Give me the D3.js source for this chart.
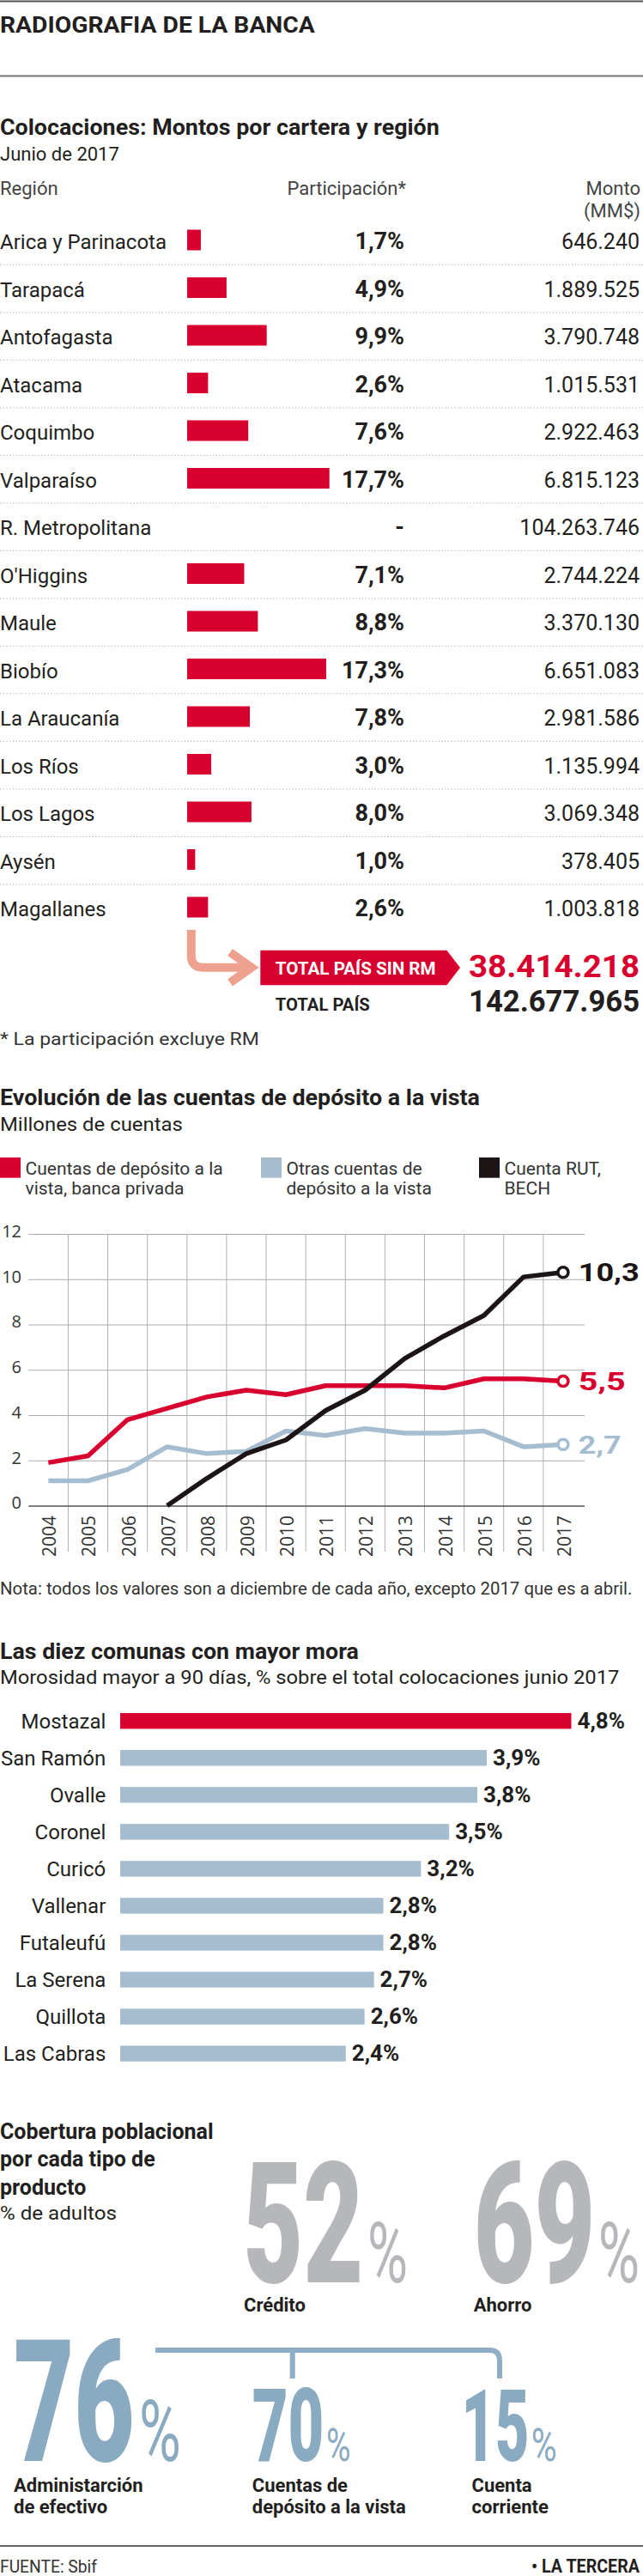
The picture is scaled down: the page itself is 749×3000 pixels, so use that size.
<!DOCTYPE html>
<html><head><meta charset="utf-8">
<script src="https://cdn.jsdelivr.net/npm/d3@7"></script>
<style>body{margin:0;background:#fff}svg{display:block}</style>
</head><body>
<script>
// ---------- DATA ----------
const regiones = ["Arica y Parinacota","Tarapacá","Antofagasta","Atacama","Coquimbo","Valparaíso","R. Metropolitana","O'Higgins","Maule","Biobío","La Araucanía","Los Ríos","Los Lagos","Aysén","Magallanes"];
const participacion = [1.7, 4.9, 9.9, 2.6, 7.6, 17.7, null, 7.1, 8.8, 17.3, 7.8, 3.0, 8.0, 1.0, 2.6];
const montos = [646240, 1889525, 3790748, 1015531, 2922463, 6815123, 104263746, 2744224, 3370130, 6651083, 2981586, 1135994, 3069348, 378405, 1003818];
const totalSinRM = 38414218;
const totalPais = 142677965;

const anios = [2004,2005,2006,2007,2008,2009,2010,2011,2012,2013,2014,2015,2016,2017];
const privada = [1.9, 2.2, 3.8, 4.3, 4.8, 5.1, 4.9, 5.3, 5.3, 5.3, 5.2, 5.6, 5.6, 5.5];
const otras = [1.1, 1.1, 1.6, 2.6, 2.3, 2.4, 3.3, 3.1, 3.4, 3.2, 3.2, 3.3, 2.6, 2.7];
const cuentaRut = [null, null, null, 0, 1.2, 2.3, 2.9, 4.2, 5.1, 6.5, 7.5, 8.4, 10.1, 10.3];
const yTicks = [0, 2, 4, 6, 8, 10, 12];
const leyenda = [["Cuentas de depósito a la","vista, banca privada"],["Otras cuentas de","depósito a la vista"],["Cuenta RUT,","BECH"]];

const comunas = ["Mostazal","San Ramón","Ovalle","Coronel","Curicó","Vallenar","Futaleufú","La Serena","Quillota","Las Cabras"];
const mora = [4.8, 3.9, 3.8, 3.5, 3.2, 2.8, 2.8, 2.7, 2.6, 2.4];

const coberturaValores = [52, 69, 76, 70, 15];
const coberturaEtiquetas = [["Crédito"],["Ahorro"],["Administarción","de efectivo"],["Cuentas de","depósito a la vista"],["Cuenta","corriente"]];

// ---------- SETUP ----------
const W = 749, H = 3000;
const RED = "#d7002e", LBLUE = "#a5bdcf", DBLUE = "#8aaac1", GRAY = "#b5b7bb", INK = "#231f20", SALMON = "#eda18e", BLACK = "#1d1515";
const F = "Roboto, 'Liberation Sans', Arial, sans-serif";
const F2 = "'Open Sans', Roboto, sans-serif";
const es = d3.formatLocale({decimal: ",", thousands: ".", grouping: [3], currency: ["$", ""]});
const fmtInt = es.format(",d");
const fmtPct = v => es.format(".1f")(v) + "%";
const fmtDec = es.format(".1f");

const svg = d3.select("body").append("svg").attr("width", W).attr("height", H);
svg.append("rect").attr("width", W).attr("height", H).attr("fill", "#fff");

// text helper; "fit" scales the text horizontally to a target width
function T(g, x, y, s, o = {}) {
  let parent = g, tx = x, ty = y, wrap = null;
  if (o.fit) { wrap = g.append("g").attr("transform", `translate(${x},${y})`); parent = wrap; tx = 0; ty = 0; }
  const t = parent.append("text").attr("x", tx).attr("y", ty).text(s)
    .attr("font-family", o.family || F).attr("font-size", o.size || 22)
    .attr("font-weight", o.weight || 400).attr("fill", o.fill || INK)
    .attr("text-anchor", o.anchor || "start");
  if (o.fit) {
    const len = t.node().getComputedTextLength() || o.fit;
    wrap.attr("transform", `translate(${x},${y}) scale(${o.fit / len},1)`);
  }
  return t;
}

// ---------- HEADER ----------
svg.append("line").attr("x1", 0).attr("x2", W).attr("y1", 1.5).attr("y2", 1.5).attr("stroke", "#555").attr("stroke-width", 2);
T(svg, 0, 37.5, "RADIOGRAFIA DE LA BANCA", {size: 26, weight: 700, fit: 367});
svg.append("line").attr("x1", 0).attr("x2", W).attr("y1", 88.5).attr("y2", 88.5).attr("stroke", "#777").attr("stroke-width", 2);

// ---------- SECTION 1 ----------
const s1 = svg.append("g");
T(s1, 0, 156.7, "Colocaciones: Montos por cartera y región", {size: 25, weight: 700, fit: 512});
T(s1, 0, 186.7, "Junio de 2017", {size: 22, fit: 139});
T(s1, 0, 226.7, "Región", {size: 22, fill: "#444"});
T(s1, 473, 226.7, "Participación*", {size: 22, fill: "#444", anchor: "end"});
T(s1, 746, 226.7, "Monto", {size: 22, fill: "#444", anchor: "end"});
T(s1, 746, 253.3, "(MM$)", {size: 22, fill: "#444", anchor: "end"});

const y1 = d3.scaleBand().domain(regiones).range([251.75, 251.75 + regiones.length * 55.5]);
const x1 = d3.scaleLinear().domain([0, 17.7]).range([218, 383.7]);
const rowData = regiones.map((r, i) => ({r, p: participacion[i], m: montos[i], i}));
const rows = s1.append("g").selectAll("g").data(rowData).join("g")
  .attr("transform", d => `translate(0,${y1(d.r) + y1.bandwidth() / 2})`);
rows.filter(d => d.i < regiones.length - 1).append("line")
  .attr("x1", 0).attr("x2", W).attr("y1", 28.8).attr("y2", 28.8)
  .attr("stroke", "#bdbdbd").attr("stroke-width", 1.3).attr("stroke-dasharray", "1.3,2.4");
rows.each(function(d) {
  const g = d3.select(this);
  T(g, 0, 10.5, d.r, {size: 24});
  if (d.p != null) g.append("rect").attr("x", x1(0)).attr("y", -12).attr("width", x1(d.p) - x1(0)).attr("height", 24).attr("fill", RED);
  T(g, 471, 10.5, d.p == null ? "-" : fmtPct(d.p), {size: 27, weight: 700, anchor: "end"});
  T(g, 745, 10.5, fmtInt(d.m), {size: 25, anchor: "end"});
});

// arrow + totals
s1.append("path").attr("d", "M222.8,1083 V1113 Q222.8,1126.7 236.5,1126.7 H292")
  .attr("fill", "none").attr("stroke", SALMON).attr("stroke-width", 10);
s1.append("path").attr("d", "M268,1109 L293,1126.7 L268,1144.4")
  .attr("fill", "none").attr("stroke", SALMON).attr("stroke-width", 10);
s1.append("polygon").attr("points", "303.3,1106.7 520.4,1106.7 536,1127 520.4,1147.3 303.3,1147.3").attr("fill", RED);
T(s1, 320.8, 1134.5, "TOTAL PAÍS SIN RM", {size: 20, weight: 700, fill: "#fff", fit: 187});
T(s1, 745, 1138, fmtInt(totalSinRM), {size: 37, weight: 700, fill: RED, anchor: "end", fit: 199});
T(s1, 320.8, 1177, "TOTAL PAÍS", {size: 20, weight: 700, fit: 110});
T(s1, 745, 1178, fmtInt(totalPais), {size: 36, weight: 700, anchor: "end", fit: 199});
T(s1, 0, 1216.7, "* La participación excluye RM", {size: 21, fill: "#333", fit: 302});

// ---------- SECTION 2: LINE CHART ----------
const s2 = svg.append("g");
T(s2, 0, 1286.7, "Evolución de las cuentas de depósito a la vista", {size: 25, weight: 700, fit: 559});
T(s2, 0, 1316.7, "Millones de cuentas", {size: 22, fit: 213});

const legColors = [RED, LBLUE, BLACK];
const legX = [0, 304, 558];
leyenda.forEach((lines, i) => {
  s2.append("rect").attr("x", legX[i]).attr("y", 1348).attr("width", 24).attr("height", 23.7).attr("fill", legColors[i]);
  lines.forEach((ln, j) => T(s2, legX[i] + 29.5, 1368 + j * 22.7, ln, {size: 21, fill: "#333"}));
});

const xB = d3.scaleBand().domain(anios).range([33.3, 679]);
const y2 = d3.scaleLinear().domain([0, 12]).range([1753.5, 1437]);
const cx = d => xB(d) + xB.bandwidth() / 2;

// vertical grid at band edges
s2.append("g").selectAll("line").data(anios.slice(1)).join("line")
  .attr("x1", d => xB(d)).attr("x2", d => xB(d)).attr("y1", y2(12)).attr("y2", 1807)
  .attr("stroke", "#b0b0b0").attr("stroke-width", 1);

// y axis with gridlines
const yAx = s2.append("g").attr("transform", "translate(33.3,0)")
  .call(d3.axisLeft(y2).tickValues(yTicks).tickSize(-(681 - 33.3)).tickPadding(8.3).tickFormat(d3.format("d")));
yAx.select(".domain").remove();
yAx.selectAll(".tick line").attr("stroke", d => d === 0 ? "#555" : "#aaa").attr("stroke-width", d => d === 0 ? 1.5 : 1);
yAx.selectAll(".tick text").attr("font-family", F2).attr("font-size", 20).attr("fill", "#333").attr("dy", "0.17em");

// x axis (years, rotated)
const xAx = s2.append("g").attr("transform", `translate(0,${y2(0)})`)
  .call(d3.axisBottom(xB).tickSize(0).tickPadding(0));
xAx.select(".domain").remove();
xAx.selectAll(".tick text").attr("font-family", F2).attr("font-size", 21).attr("fill", "#333")
  .attr("transform", "rotate(-90)").attr("text-anchor", "end").attr("x", -11.5).attr("y", 9).attr("dy", 0);

const line = d3.line().defined(d => d.v != null).x(d => cx(d.a)).y(d => y2(d.v));
const series = [
  {vals: privada, color: RED, fit: 55},
  {vals: otras, color: LBLUE, fit: 50},
  {vals: cuentaRut, color: BLACK, fit: 71}
];
series.forEach(s => {
  const pts = anios.map((a, i) => ({a, v: s.vals[i]}));
  s2.append("path").datum(pts).attr("d", line).attr("fill", "none")
    .attr("stroke", s.color).attr("stroke-width", 5.5).attr("stroke-linejoin", "round").attr("stroke-linecap", "butt");
});
series.forEach(s => {
  const last = s.vals[s.vals.length - 1];
  const a = anios[anios.length - 1];
  s2.append("circle").attr("cx", cx(a)).attr("cy", y2(last)).attr("r", 6)
    .attr("fill", "#fff").attr("stroke", s.color).attr("stroke-width", 3.5);
  T(s2, 673.7, y2(last) + 10.5, fmtDec(last), {size: 30, weight: 700, fill: s.color, fit: s.fit});
});

T(s2, 0, 1856.7, "Nota: todos los valores son a diciembre de cada año, excepto 2017 que es a abril.", {size: 21, fill: "#333", fit: 737});

// ---------- SECTION 3: MORA ----------
const s3 = svg.append("g");
T(s3, 0, 1931.7, "Las diez comunas con mayor mora", {size: 25, weight: 700, fit: 418});
T(s3, 0, 1960.7, "Morosidad mayor a 90 días, % sobre el total  colocaciones junio 2017", {size: 22, fit: 722});
const y3 = d3.scaleBand().domain(comunas).range([1982.7, 2413.1]).paddingInner(0.5725).paddingOuter(0.28625);
const x3 = d3.scaleLinear().domain([0, 4.8]).range([140, 665.5]);
const bars = s3.append("g").selectAll("g").data(comunas.map((c, i) => ({c, v: mora[i], i}))).join("g")
  .attr("transform", d => `translate(0,${y3(d.c)})`);
bars.append("rect").attr("x", x3(0)).attr("y", 0).attr("height", y3.bandwidth())
  .attr("width", d => x3(d.v) - x3(0)).attr("fill", d => d.i === 0 ? RED : LBLUE);
bars.each(function(d) {
  const g = d3.select(this);
  const c = y3.bandwidth() / 2;
  T(g, 123.3, c + 8.3, d.c, {size: 24, anchor: "end"});
  T(g, x3(d.v) + 7, c + 8.5, fmtPct(d.v), {size: 26, weight: 700});
});

// ---------- SECTION 4: COBERTURA ----------
const s4 = svg.append("g");
["Cobertura poblacional", "por cada tipo de", "producto"].forEach((t, i) =>
  T(s4, 0, [2490.5, 2523.3, 2555.5][i], t, {size: 25, weight: 700}));
T(s4, 0, 2585, "% de adultos", {size: 22, fit: 136});

// layout of big figures (positions only)
const bigLayout = [
  {x: 283.3, w: 140, px: 428, pw: 47, base: 2658, h: 140, ph: 70, color: GRAY, lx: 284, ly: 2691.7},
  {x: 551.7, w: 141.6, px: 696.7, pw: 48.3, base: 2658, h: 140, ph: 70, color: GRAY, lx: 551.7, ly: 2691.7},
  {x: 16, w: 140.7, px: 162, pw: 48.7, base: 2866, h: 141, ph: 71, color: DBLUE, lx: 16, ly: 2901.7},
  {x: 293.8, w: 83.6, px: 380, pw: 28.5, base: 2866, h: 84, ph: 38, color: DBLUE, lx: 293.8, ly: 2901.7},
  {x: 537.5, w: 78.8, px: 618.7, pw: 30, base: 2866, h: 83, ph: 38, color: DBLUE, lx: 549.5, ly: 2901.7}
];
s4.append("path").attr("d", "M181,2737 H570 Q582,2737 582,2749 V2770 M340.7,2737 V2770")
  .attr("fill", "none").attr("stroke", "#8fadc4").attr("stroke-width", 6);
coberturaValores.forEach((v, i) => {
  const L = bigLayout[i];
  T(s4, L.x, L.base, String(v), {size: L.h / 0.711, weight: 900, fill: L.color, fit: L.w});
  T(s4, L.px, L.base, "%", {size: L.ph / 0.711, weight: 400, fill: L.color, fit: L.pw});
  coberturaEtiquetas[i].forEach((ln, j) => T(s4, L.lx, L.ly + j * 25, ln, {size: 22, weight: 700}));
});

// ---------- FOOTER ----------
svg.append("line").attr("x1", 0).attr("x2", W).attr("y1", 2965).attr("y2", 2965).attr("stroke", "#666").attr("stroke-width", 2);
T(svg, 0, 2996, "FUENTE: Sbif", {size: 21, fill: "#333", fit: 113});
T(svg, 745, 2996, "• LA TERCERA", {size: 22, weight: 700, anchor: "end", fit: 126});
</script>
</body></html>
